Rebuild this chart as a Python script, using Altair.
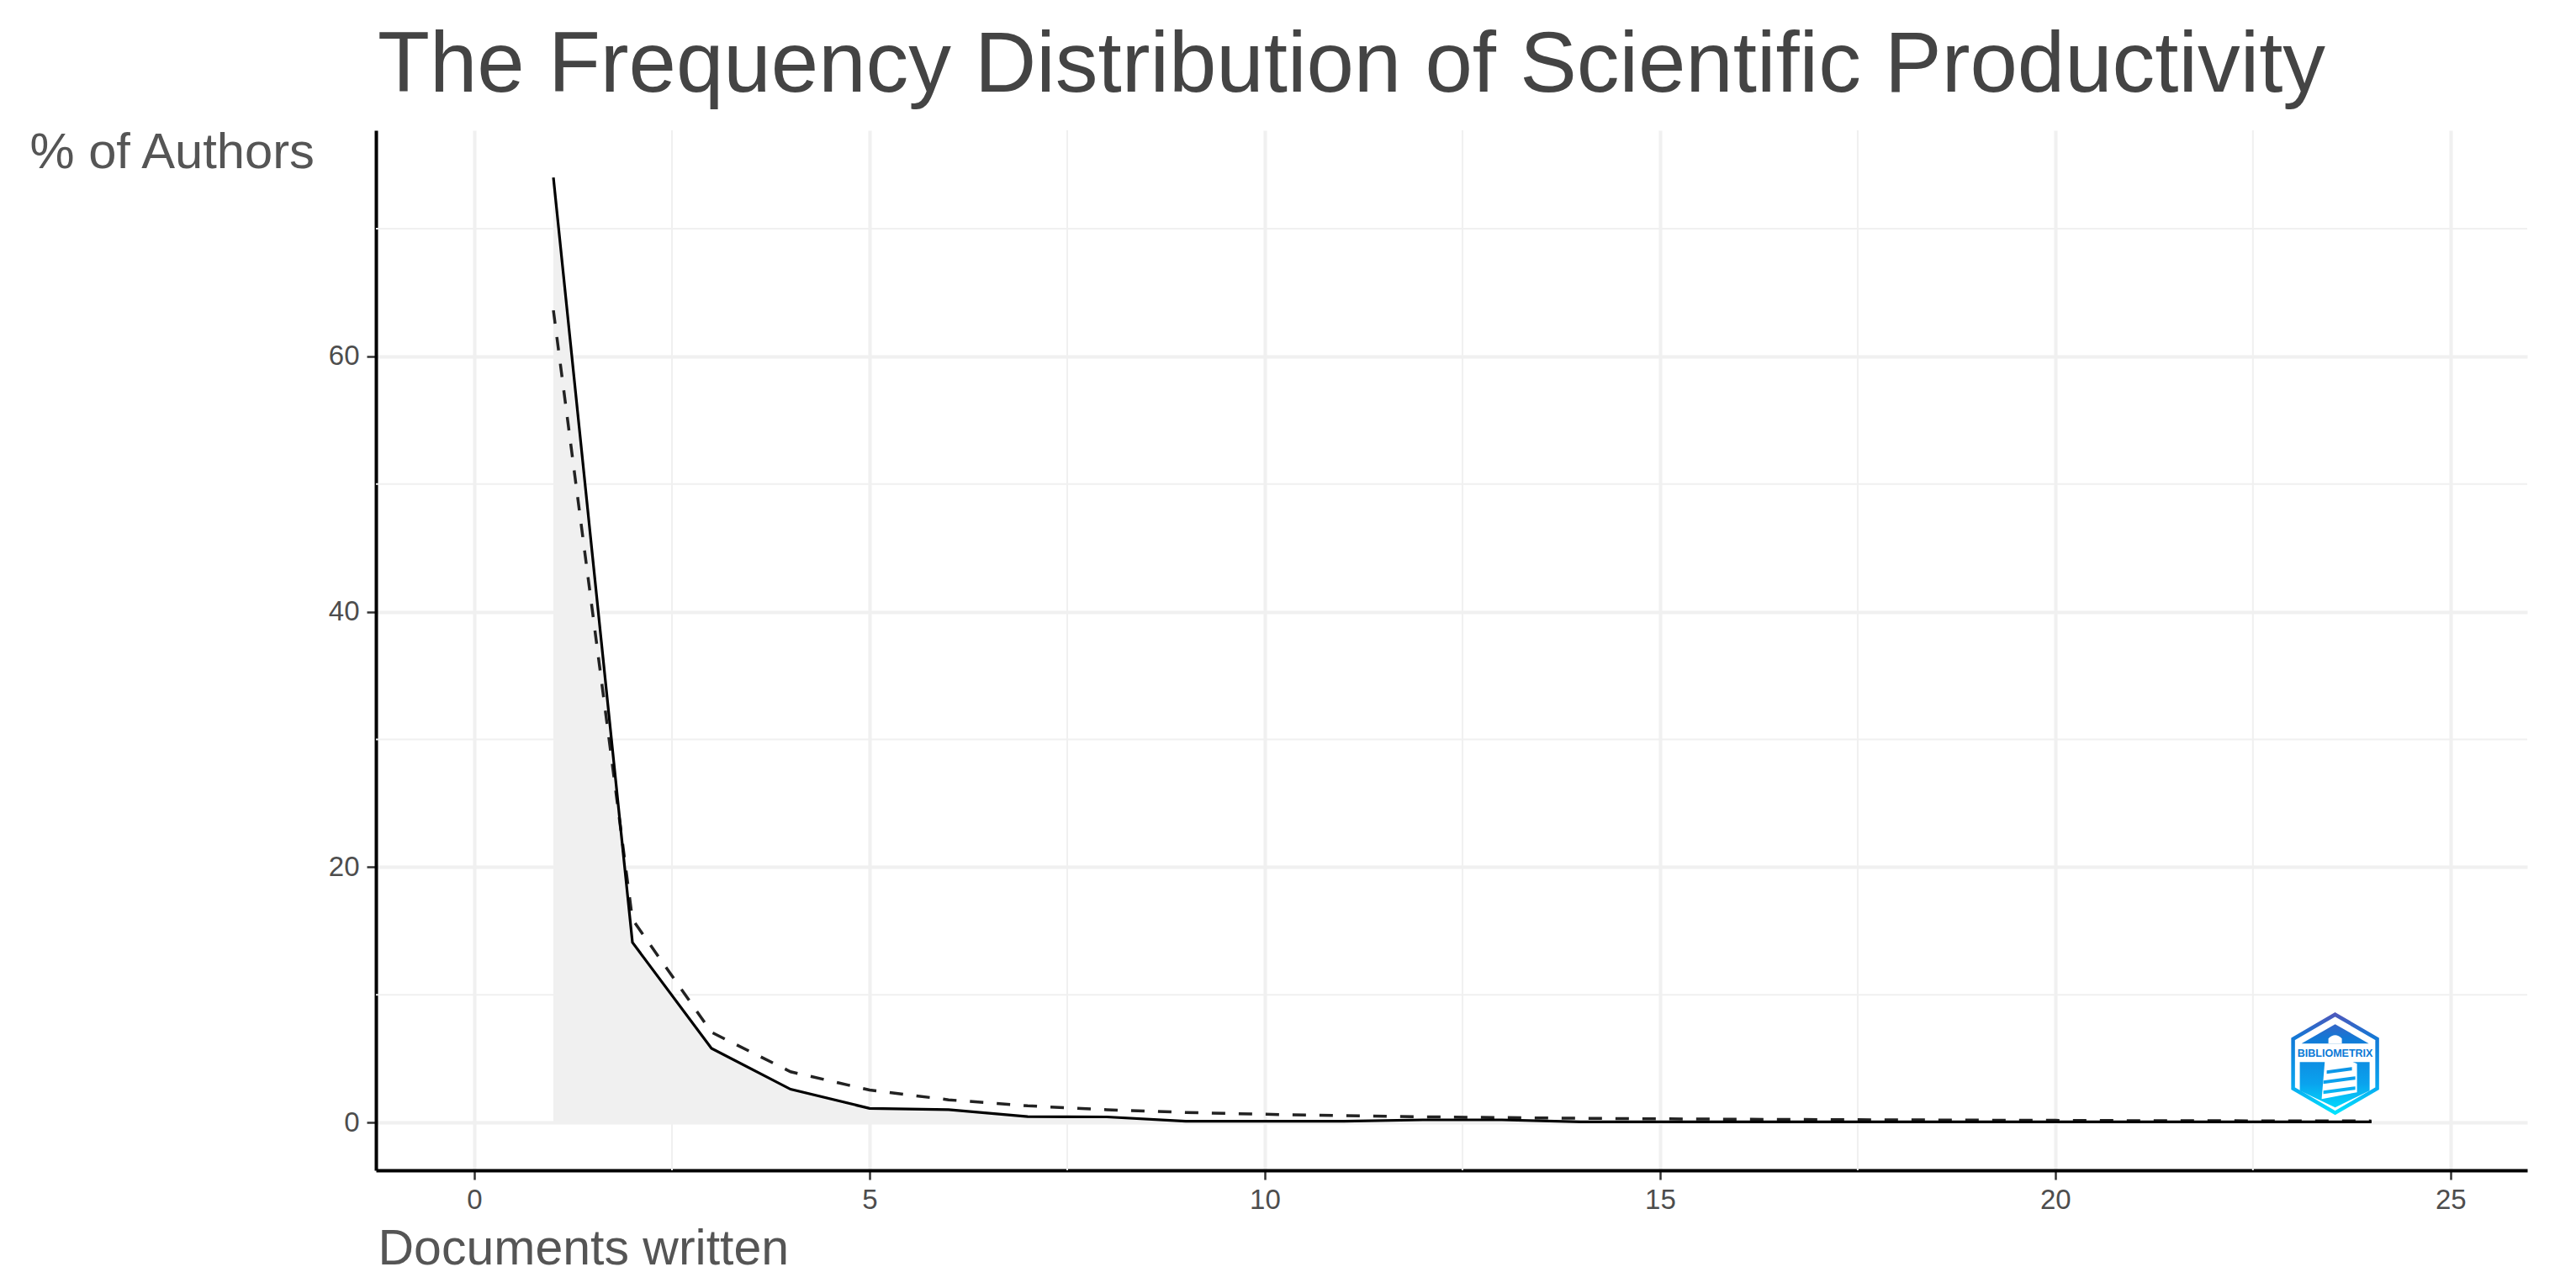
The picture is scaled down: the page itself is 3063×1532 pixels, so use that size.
import urllib.parse
import altair as alt
import pandas as pd

title_text = "The Frequency Distribution of Scientific Productivity"
y_title = "% of Authors"
x_title = "Documents written"

documents = list(range(1, 25))
observed = [74.0, 14.1, 5.8, 2.6, 1.1, 1.0, 0.45, 0.43, 0.1, 0.1, 0.1, 0.2,
            0.2, 0.05, 0.05, 0.05, 0.05, 0.05, 0.05, 0.05, 0.05, 0.05, 0.05, 0.05]
theoretical = [63.6, 15.9, 7.06, 3.97, 2.54, 1.77, 1.3, 0.99, 0.78, 0.64, 0.53, 0.44,
               0.38, 0.32, 0.28, 0.25, 0.22, 0.2, 0.18, 0.16, 0.14, 0.13, 0.12, 0.11]

x_major = [0, 5, 10, 15, 20, 25]
y_major = [0, 20, 40, 60]
x_minor = [2.5, 7.5, 12.5, 17.5, 22.5]
y_minor = [10, 30, 50, 70]
x_domain = [-1.245, 25.97]
y_domain = [-3.75, 77.7]

logo_x = [23.54]
logo_y = [4.6]
logo_label_y = [5.42]
logo_label = ["BIBLIOMETRIX"]

FONT = "Liberation Sans"
GRID = "#f0f0f0"

logo_svg = """<svg xmlns="http://www.w3.org/2000/svg" width="108" height="124" viewBox="-2 -2 108 124">
<defs><linearGradient id="g" gradientUnits="userSpaceOnUse" x1="0" y1="0" x2="0" y2="120">
<stop offset="0" stop-color="#4f57bb"/><stop offset="0.25" stop-color="#1279d6"/>
<stop offset="0.7" stop-color="#0aa3ee"/><stop offset="1" stop-color="#00e5ff"/></linearGradient></defs>
<path d="M52 1.5L102 30.5V89.5L52 118.5L2 89.5V30.5Z" fill="#fff" stroke="url(#g)" stroke-width="4.5"/>
<path d="M52 13L92 36H12Z" fill="url(#g)"/>
<path d="M10 58H93V92L52 112L10 92Z" fill="url(#g)"/>
<path d="M44 36V30Q52 22 60 30V36Z" fill="#fff"/>
<path d="M40 54H64L78 60V94L36 102Z" fill="#fff"/>
<path d="M42 68L72 64V68L42 72ZM38 80L76 75V79L38 84ZM38 92L76 87V91L38 96Z" fill="url(#g)"/>
</svg>"""
logo_uri = "data:image/svg+xml;charset=utf-8," + urllib.parse.quote(logo_svg)

df = pd.DataFrame({"documents": documents, "observed": observed, "theoretical": theoretical})
x_scale = alt.Scale(domain=x_domain, nice=False, zero=False)
y_scale = alt.Scale(domain=y_domain, nice=False, zero=False)

x_axis = alt.Axis(
    values=x_major, title=x_title, format="d", grid=True, gridColor=GRID, gridWidth=4,
    domainColor="#000000", domainWidth=4, tickColor="#333333", tickWidth=2.5, tickSize=11,
    labelFont=FONT, labelFontSize=33, labelColor="#4d4d4d", labelPadding=8,
    titleFont=FONT, titleFontSize=59, titleFontWeight="normal", titleColor="#555555",
    titleX=2, titleY=111, titleAlign="left", titleBaseline="alphabetic",
)
y_axis = alt.Axis(
    values=y_major, title=y_title, format="d", grid=True, gridColor=GRID, gridWidth=4,
    domainColor="#000000", domainWidth=4, tickColor="#333333", tickWidth=2.5, tickSize=11,
    labelFont=FONT, labelFontSize=33, labelColor="#4d4d4d", labelPadding=9,
    titleFont=FONT, titleFontSize=59.7, titleFontWeight="normal", titleColor="#555555",
    titleAngle=0, titleX=-412, titleY=44, titleAlign="left", titleBaseline="alphabetic",
)


def xe(field):
    return alt.X(field, scale=x_scale, axis=x_axis)


def ye(field):
    return alt.Y(field, scale=y_scale, axis=y_axis)


area = alt.Chart(df).mark_area(color=GRID, opacity=1).encode(
    x=xe("documents:Q"), y=ye("observed:Q"), y2=alt.Y2(datum=0))

minor_v = alt.Chart(pd.DataFrame({"v": x_minor})).mark_rule(color=GRID, strokeWidth=2).encode(x=xe("v:Q"))
minor_h = alt.Chart(pd.DataFrame({"v": y_minor})).mark_rule(color=GRID, strokeWidth=2).encode(y=ye("v:Q"))

dashed = alt.Chart(df).mark_line(color="#222222", strokeWidth=3.5, strokeDash=[16, 16]).encode(
    x=xe("documents:Q"), y=ye("theoretical:Q"))
solid = alt.Chart(df).mark_line(color="#000000", strokeWidth=3.2).encode(
    x=xe("documents:Q"), y=ye("observed:Q"))

logo_df = pd.DataFrame({"x": logo_x, "y": logo_y, "ly": logo_label_y, "t": logo_label, "u": [logo_uri]})
logo = alt.Chart(logo_df).mark_image(width=108, height=124, aspect=False).encode(
    x=xe("x:Q"), y=ye("y:Q"), url="u:N")
logo_text = alt.Chart(logo_df).mark_text(
    font=FONT, fontSize=12.5, fontWeight="bold", color="#0a79d6"
).encode(x=xe("x:Q"), y=ye("ly:Q"), text="t:N")

chart = alt.layer(minor_v, minor_h, area, dashed, solid, logo, logo_text).properties(
    width=2558,
    height=1237,
    padding={"left": 439, "top": 147, "right": 50, "bottom": 125},
    autosize=alt.AutoSizeParams(type="none"),
    background="#ffffff",
    title=alt.TitleParams(
        title_text, anchor="start", frame="group", font=FONT, fontSize=101.4,
        fontWeight="normal", color="#444444", baseline="alphabetic", offset=43, dx=2, dy=102,
    ),
).configure_view(stroke=None)

chart.save("out.html", embed_options={"renderer": "svg", "actions": False})
